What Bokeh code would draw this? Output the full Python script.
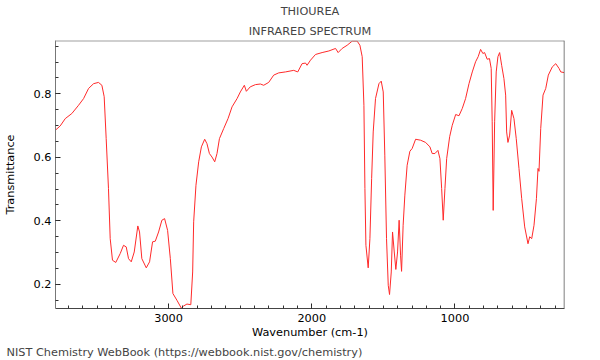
from bokeh.plotting import figure
from bokeh.models import Range1d, Span, Title, SingleIntervalTicker
from bokeh.embed import file_html
from bokeh.resources import INLINE

# Wavenumber (cm-1) and transmittance
wavenumber = [
    3792, 3757, 3722, 3676, 3629, 3594, 3559, 3524, 3490, 3466, 3450, 3436, 3420, 3408,
    3392, 3369, 3338, 3315, 3296, 3280, 3261, 3240, 3215, 3203, 3187, 3156, 3133, 3112,
    3093, 3070, 3047, 3028, 3007, 2988, 2970, 2942, 2911, 2895, 2872, 2845, 2832, 2825,
    2809, 2790, 2771, 2748, 2732, 2715, 2697, 2678, 2662, 2645, 2615, 2585, 2557, 2522,
    2499, 2471, 2457, 2430, 2394, 2359, 2336, 2301, 2266, 2231, 2184, 2126, 2098, 2068,
    2044, 2033, 2009, 1974, 1928, 1881, 1834, 1816, 1788, 1753, 1718, 1683, 1664, 1648,
    1636, 1629, 1622, 1606, 1594, 1582, 1571, 1555, 1531, 1515, 1501, 1490, 1478, 1466,
    1457, 1445, 1436, 1424, 1413, 1401, 1390, 1380, 1373, 1362, 1350, 1334, 1315, 1299,
    1275, 1240, 1205, 1175, 1159, 1140, 1119, 1105, 1093, 1082, 1070, 1058, 1037, 1019,
    995, 972, 949, 926, 902, 879, 856, 838, 821, 805, 793, 775, 759, 747,
    740, 733, 723, 712, 700, 688, 674, 658, 646, 639, 630, 618, 604, 588,
    572, 553, 534, 513, 490, 478, 464, 448, 431, 420, 413, 401, 385, 366,
    348, 320, 296, 273, 261, 238,
]
transmittance = [
    0.685, 0.699, 0.722, 0.738, 0.764, 0.785, 0.817, 0.832, 0.836, 0.827, 0.791, 0.659, 0.502, 0.344,
    0.276, 0.269, 0.297, 0.323, 0.318, 0.281, 0.271, 0.302, 0.384, 0.365, 0.281, 0.252, 0.271, 0.334,
    0.336, 0.365, 0.402, 0.407, 0.370, 0.281, 0.171, 0.150, 0.125, 0.132, 0.138, 0.136, 0.239, 0.397,
    0.512, 0.586, 0.633, 0.657, 0.643, 0.612, 0.601, 0.586, 0.612, 0.659, 0.691, 0.722, 0.759, 0.785,
    0.806, 0.827, 0.808, 0.822, 0.829, 0.831, 0.827, 0.836, 0.859, 0.866, 0.869, 0.874, 0.869, 0.895,
    0.897, 0.890, 0.906, 0.924, 0.930, 0.935, 0.943, 0.930, 0.943, 0.953, 0.966, 0.966, 0.953, 0.917,
    0.764, 0.502, 0.323, 0.252, 0.344, 0.533, 0.680, 0.785, 0.832, 0.840, 0.806, 0.607, 0.344, 0.197,
    0.168, 0.239, 0.365, 0.302, 0.247, 0.302, 0.402, 0.292, 0.241, 0.386, 0.481, 0.575, 0.619, 0.628,
    0.657, 0.654, 0.647, 0.633, 0.612, 0.612, 0.622, 0.596, 0.502, 0.402, 0.502, 0.596, 0.665, 0.701,
    0.735, 0.731, 0.754, 0.785, 0.832, 0.869, 0.901, 0.917, 0.940, 0.927, 0.930, 0.909, 0.911, 0.880,
    0.712, 0.433, 0.712, 0.869, 0.917, 0.930, 0.890, 0.848, 0.796, 0.680, 0.647, 0.670, 0.748, 0.722,
    0.659, 0.565, 0.470, 0.381, 0.328, 0.350, 0.344, 0.386, 0.470, 0.565, 0.556, 0.691, 0.796, 0.817,
    0.859, 0.885, 0.895, 0.880, 0.869, 0.867,
]

title_line1 = "THIOUREA"
title_line2 = "INFRARED SPECTRUM"
x_label = "Wavenumber (cm-1)"
y_label = "Transmittance"
footer = "NIST Chemistry WebBook (https://webbook.nist.gov/chemistry)"

X_START, X_END = 3790, 235
Y_START, Y_END = 0.124, 0.968

FONT = "DejaVu Sans"
FS = "11.3px"

BL, BR, BT = 49, 26, 40

p = figure(
    frame_width=509, frame_height=268, output_backend="svg", toolbar_location=None,
    x_range=Range1d(X_START, X_END), y_range=Range1d(Y_START, Y_END),
    min_border_left=BL, min_border_right=BR, min_border_top=BT, min_border_bottom=0,
    x_axis_label=x_label, y_axis_label=y_label,
)
p.background_fill_color = "white"
p.border_fill_color = "white"
p.xgrid.visible = False
p.ygrid.visible = False
p.outline_line_color = None

p.line(wavenumber, transmittance, line_color="#ff2a2a", line_width=1)

# frame borders on top and right
p.add_layout(Span(location=Y_END, dimension="width", line_color="#a0a0a0", line_width=2))
p.add_layout(Span(location=X_END, dimension="height", line_color="#555555", line_width=1.5))

# Titles: p.title is the outer line, the added one sits next to the frame
p.title.text = title_line1
p.title.align = "center"
p.title.text_font = FONT
p.title.text_font_size = FS
p.title.text_font_style = "normal"
p.title.standoff = 4
p.add_layout(Title(text=title_line2, align="center", text_font=FONT, text_font_size=FS,
                   text_font_style="normal", standoff=6), "above")

# Axes styling
for ax in (p.xaxis[0], p.yaxis[0]):
    ax.major_tick_in = 5
    ax.major_tick_out = 0
    ax.minor_tick_in = 3
    ax.minor_tick_out = 0
    ax.major_tick_line_color = "#222222"
    ax.minor_tick_line_color = "#333333"
    ax.major_label_text_font = FONT
    ax.major_label_text_font_size = FS
    ax.major_label_text_color = "black"
    ax.axis_label_text_font = FONT
    ax.axis_label_text_font_size = FS
    ax.axis_label_text_font_style = "normal"
    ax.axis_label_text_color = "black"

p.xaxis[0].ticker = SingleIntervalTicker(interval=1000, num_minor_ticks=10)
p.yaxis[0].ticker = SingleIntervalTicker(interval=0.2, num_minor_ticks=4)
p.xaxis[0].axis_line_color = "#444444"
p.yaxis[0].axis_line_color = "#777777"
p.xaxis[0].major_label_standoff = 5
p.yaxis[0].major_label_standoff = 4
p.xaxis[0].axis_label_standoff = 1
p.yaxis[0].axis_label_standoff = 14

p.add_layout(Title(text=footer, align="left", offset=-BL, text_font=FONT, text_font_size=FS,
                   text_font_style="normal", standoff=4), "below")

open("out.html", "w").write(file_html(p, INLINE))
